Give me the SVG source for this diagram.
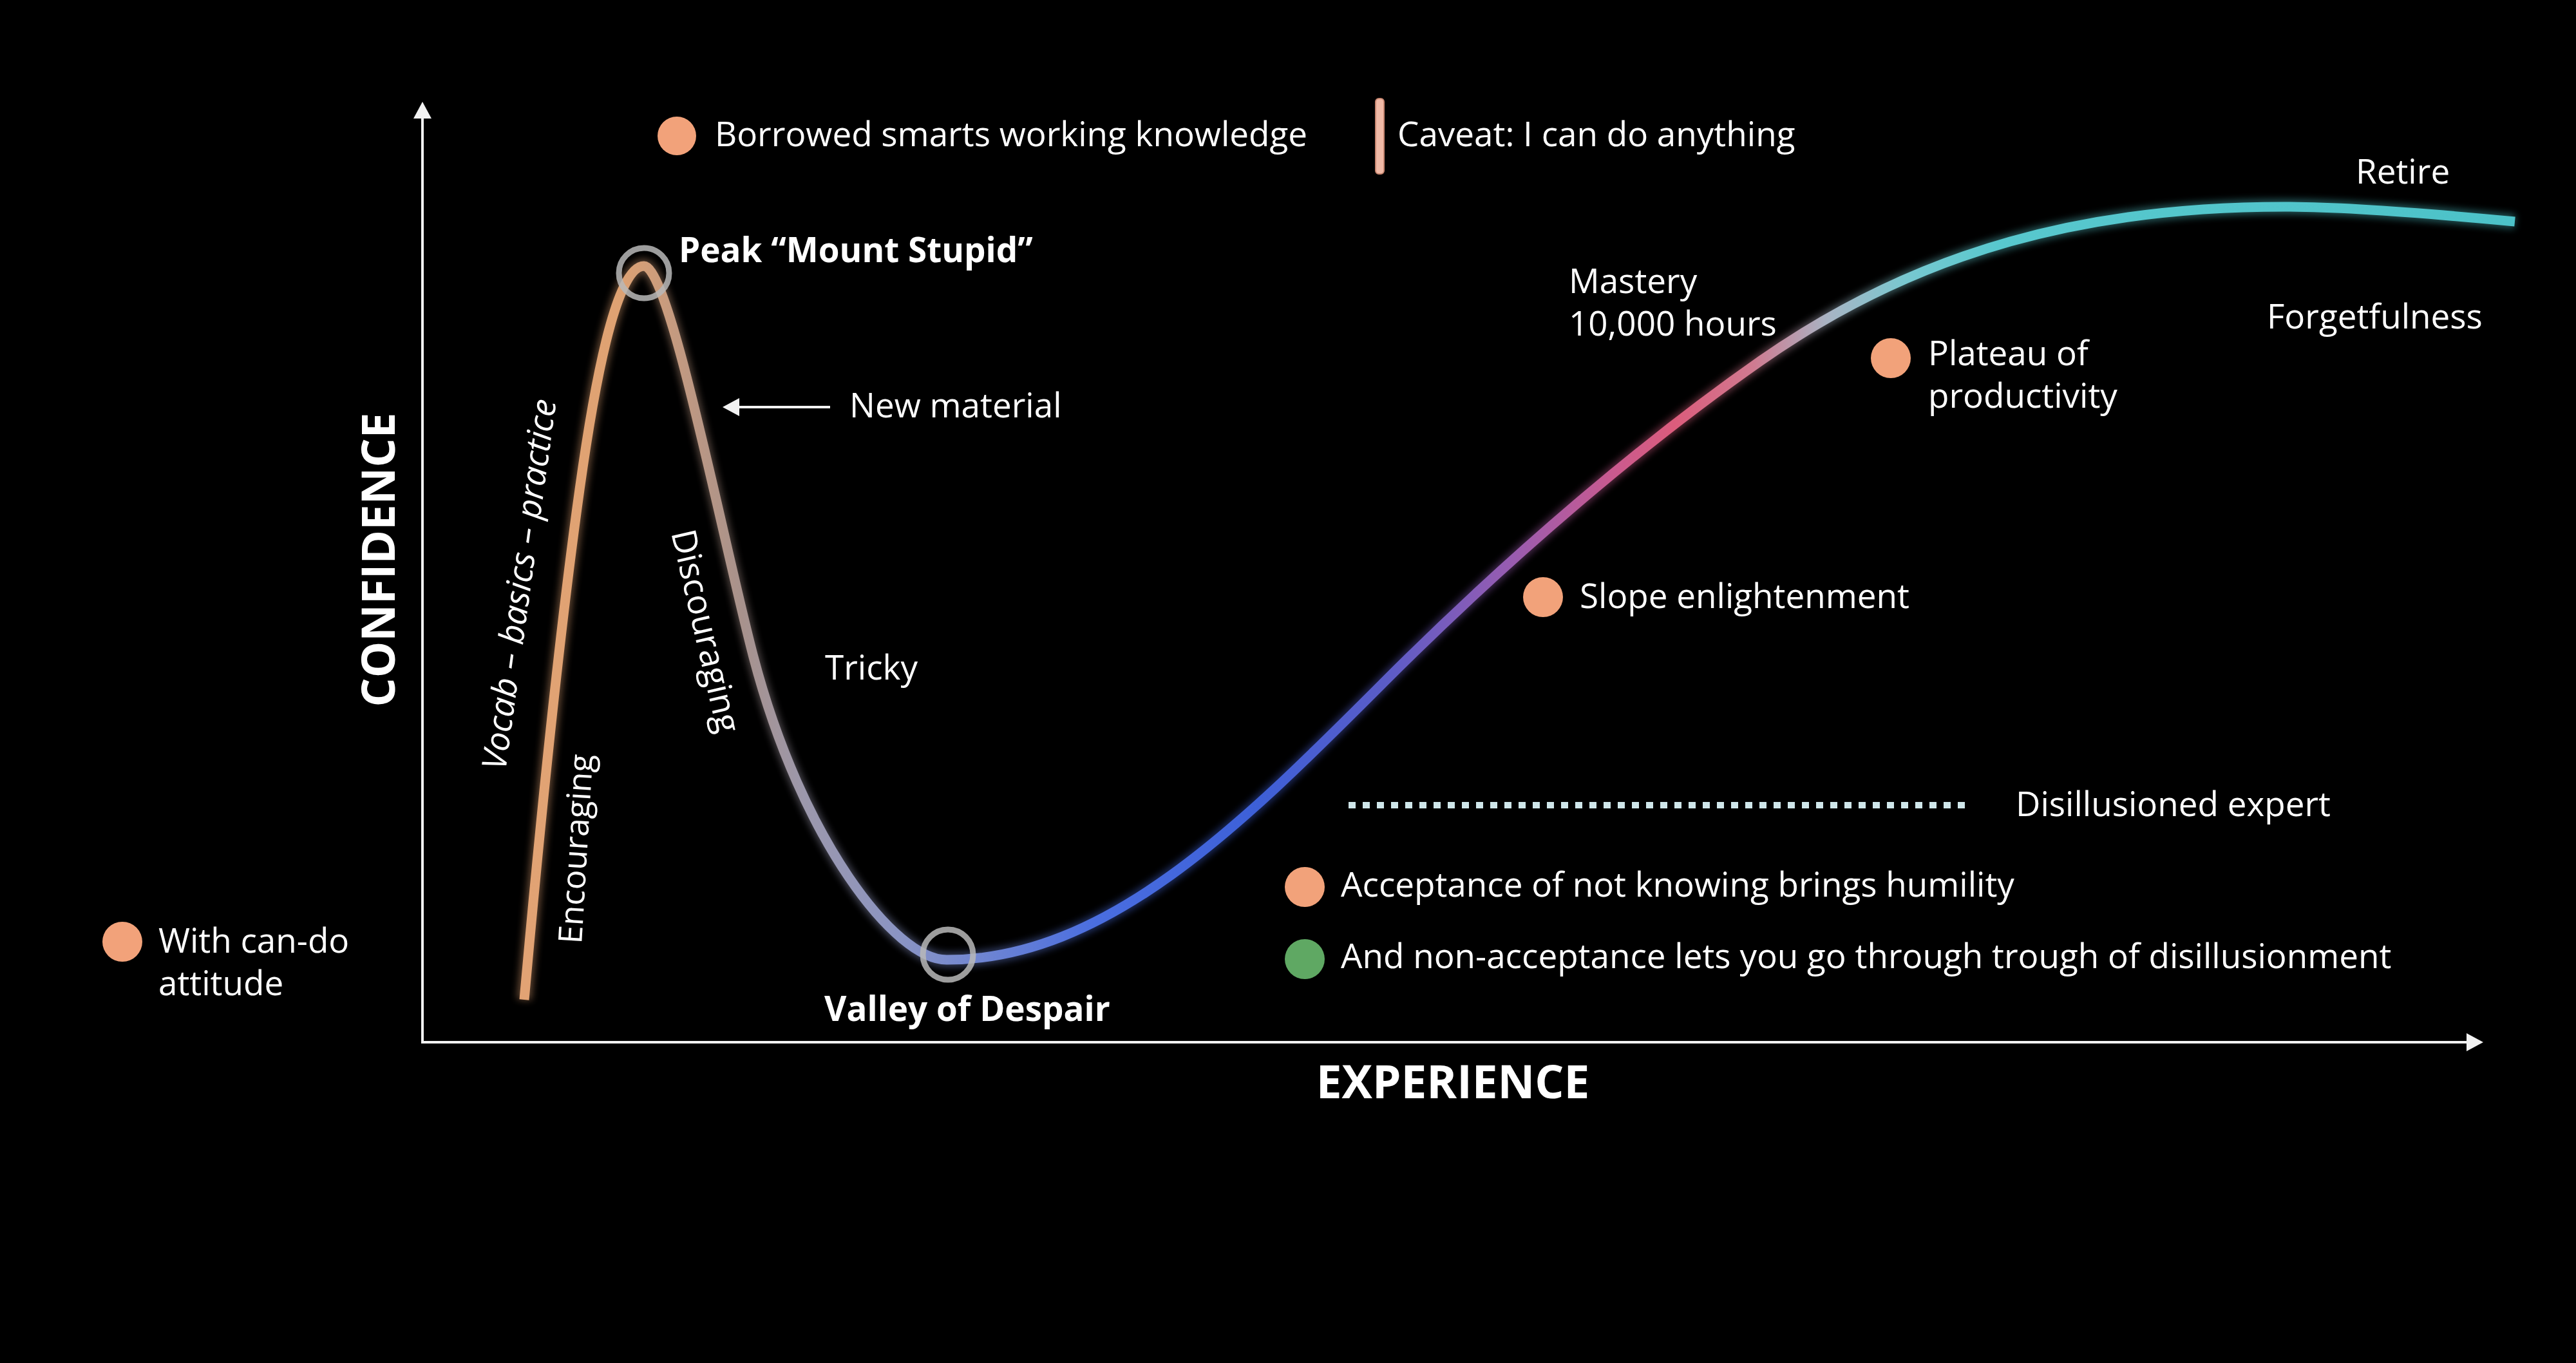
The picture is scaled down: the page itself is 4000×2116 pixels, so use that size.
<svg xmlns="http://www.w3.org/2000/svg" width="4000" height="2116" viewBox="0 0 4000 2116">
<defs>
<style>
text { font-family: "Open Sans", "Noto Sans", "Liberation Sans", sans-serif; fill: #ffffff; }
.t { font-size: 53px; }
.b { font-size: 53px; font-weight: 700; }
.ax { font-size: 71px; font-weight: 700; }
.it { font-style: italic; }
.dot { fill: #f2a27a; }
.axis { stroke: #f2f2f2; stroke-width: 4; fill: none; }
.ring { fill: none; stroke: #b8b8b8; stroke-width: 9; opacity: 0.85; }
.curve { fill: none; stroke: url(#curveGrad); }
</style>
<linearGradient id="curveGrad" gradientUnits="userSpaceOnUse" x1="814" y1="0" x2="3905" y2="0">
<stop offset="0" stop-color="#e2a374"/>
<stop offset="0.047" stop-color="#dfa272"/>
<stop offset="0.076" stop-color="#c49a80"/>
<stop offset="0.109" stop-color="#a8928c"/>
<stop offset="0.141" stop-color="#9c98ac"/>
<stop offset="0.190" stop-color="#8a94c4"/>
<stop offset="0.222" stop-color="#7488d0"/>
<stop offset="0.287" stop-color="#4a6ee0"/>
<stop offset="0.368" stop-color="#3d60d8"/>
<stop offset="0.432" stop-color="#5a5cc8"/>
<stop offset="0.497" stop-color="#9a5cb0"/>
<stop offset="0.545" stop-color="#c85a90"/>
<stop offset="0.578" stop-color="#dc5c7c"/>
<stop offset="0.617" stop-color="#d07a90"/>
<stop offset="0.655" stop-color="#a8b4c4"/>
<stop offset="0.694" stop-color="#78c8d0"/>
<stop offset="0.740" stop-color="#58c8ce"/>
<stop offset="1" stop-color="#4cc2c8"/>
</linearGradient>
<filter id="glow" x="-5%" y="-10%" width="110%" height="120%">
<feGaussianBlur stdDeviation="6"/>
</filter>
<marker id="ah" viewBox="0 0 26 28" refX="0" refY="14" markerWidth="26" markerHeight="28" markerUnits="userSpaceOnUse" orient="auto">
<path d="M0,0 L26,14 L0,28 z" fill="#f2f2f2"/>
</marker>
<path id="curvePath" d="M814,1552 C836.5,1302 865,1010 900,760 C921,610 955,413 1000,413 C1040,413 1122,838 1170,1020 C1245,1305 1390,1490 1470,1490 C1720,1490 1930,1278 2150,1058 C2350,858 2554,686 2734,560 C2984,385 3247,321 3547,321 C3650,321 3800,334 3905,344"/>
</defs>
<rect x="0" y="0" width="4000" height="2116" fill="#000000"/>

<g id="connectors">
<line class="axis" x1="656" y1="1620" x2="656" y2="184" marker-end="url(#ah)"/>
<line class="axis" x1="654" y1="1618" x2="3830" y2="1618" marker-end="url(#ah)"/>
<line class="axis" x1="1289" y1="632" x2="1148" y2="632" marker-end="url(#ah)"/>
</g>

<g id="curve">
<use href="#curvePath" class="curve" stroke-width="22" opacity="0.45" filter="url(#glow)"/>
<use href="#curvePath" class="curve" stroke-width="15"/>
</g>

<g id="axis-confidence"><text class="ax" text-anchor="middle" transform="translate(613,869) rotate(-90)">CONFIDENCE</text></g>
<g id="axis-experience"><text class="ax" x="2256" y="1705" text-anchor="middle">EXPERIENCE</text></g>

<g id="borrowed-smarts">
<circle class="dot" cx="1051" cy="211" r="30"/>
<text class="t" x="1110" y="227">Borrowed smarts working knowledge</text>
</g>
<g id="caveat">
<rect x="2136" y="153" width="13" height="117" rx="5" fill="#f0b9a6" stroke="#c88670" stroke-width="2"/>
<text class="t" x="2170" y="227">Caveat: I can do anything</text>
</g>
<g id="peak">
<circle class="ring" cx="1000" cy="424" r="39"/>
<text class="b" x="1054" y="407">Peak “Mount Stupid”</text>
</g>
<g id="new-material"><text class="t" x="1319" y="648">New material</text></g>
<g id="vocab"><text class="t it" transform="translate(785,1197) rotate(-82.2)">Vocab – basics – practice</text></g>
<g id="encouraging"><text class="t" style="font-size:51px" transform="translate(903,1466) rotate(-86.6)">Encouraging</text></g>
<g id="discouraging"><text class="t" transform="translate(1042,827) rotate(77)">Discouraging</text></g>
<g id="tricky"><text class="t" x="1281" y="1055">Tricky</text></g>
<g id="valley">
<circle class="ring" cx="1472" cy="1482" r="39"/>
<text class="b" x="1280" y="1585">Valley of Despair</text>
</g>
<g id="can-do">
<circle class="dot" cx="190" cy="1462" r="31"/>
<text class="t" x="246" y="1479">With can-do<tspan x="246" dy="66">attitude</tspan></text>
</g>
<g id="mastery">
<text class="t" x="2436" y="455">Mastery<tspan x="2436" dy="66">10,000 hours</tspan></text>
</g>
<g id="plateau">
<circle class="dot" cx="2936" cy="556" r="31"/>
<text class="t" x="2994" y="567">Plateau of<tspan x="2994" dy="66">productivity</tspan></text>
</g>
<g id="retire"><text class="t" x="3658" y="285">Retire</text></g>
<g id="forgetfulness"><text class="t" x="3520" y="510">Forgetfulness</text></g>
<g id="slope">
<circle class="dot" cx="2396" cy="927" r="31"/>
<text class="t" x="2453" y="944">Slope enlightenment</text>
</g>
<g id="disillusioned">
<line x1="2094" y1="1250" x2="3052" y2="1250" stroke="#cfe6ea" stroke-width="10" stroke-dasharray="11 11"/>
<text class="t" x="3130" y="1267">Disillusioned expert</text>
</g>
<g id="acceptance">
<circle class="dot" cx="2026" cy="1377" r="31"/>
<text class="t" x="2082" y="1392">Acceptance of not knowing brings humility</text>
</g>
<g id="non-acceptance">
<circle cx="2026" cy="1489" r="31" fill="#5fa863"/>
<text class="t" x="2082" y="1503">And non-acceptance lets you go through trough of disillusionment</text>
</g>
</svg>
